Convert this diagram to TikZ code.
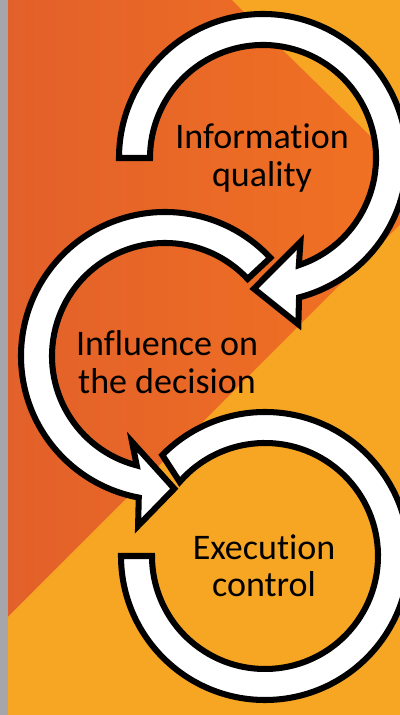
\documentclass[tikz,border=0pt]{standalone}
\usepackage{fontspec}
\setmainfont{Carlito}[Ligatures=NoCommon]
\usepackage{tikz}

\definecolor{leftorange}{RGB}{226,96,42}
\definecolor{midorange}{RGB}{241,114,34}
\definecolor{warmyellow}{RGB}{247,166,36}
\definecolor{stripgray}{RGB}{166,166,170}

\tikzset{
	ring/.style={draw=black, fill=white, line width=4.3pt},
	ringtext/.style={font=\fontsize{25.6}{26.6}\selectfont, align=center, inner sep=0pt}
}

\begin{document}
\begin{tikzpicture}[x=0.025cm, y=0.025cm]
		\useasboundingbox (0,0) rectangle (400,715);
		\clip (0,0) rectangle (400,715);
		% background
		\shade [left color=leftorange, right color=midorange] (0,0) rectangle (400,715);
		\fill [warmyellow] (232,715) -- (400,715) -- (400,550) -- cycle;
		\fill [warmyellow] (0,0) -- (400,0) -- (400,490) -- (0,90) -- cycle;
		\fill [stripgray] (0,0) rectangle (8,715);
		% top ring, arrow head at the bottom
		\coordinate (c1) at (263,557);
		\begin{scope}[shift={(c1)}]
			\draw [ring] (180:144) arc [start angle=180, end angle=-75.5, radius=144]
				-- (-78:170) -- (-94:131) -- (-66:92) -- (-71.5:113)
				arc [start angle=-71.5, end angle=180, radius=113] -- cycle;
		\end{scope}
		% middle ring
		\coordinate (c2) at (165,359);
		\begin{scope}[shift={(c2)}]
			\draw [ring] (43:144) arc [start angle=43, end angle=259.5, radius=144]
				-- (261:172) -- (274:133) -- (249:92) -- (255.5:113)
				arc [start angle=255.5, end angle=43, radius=113] -- cycle;
		\end{scope}
		% bottom ring, no head
		\coordinate (c3) at (265,159);
		\begin{scope}[shift={(c3)}]
			\draw [ring] (180:144) arc [start angle=180, end angle=495.5, radius=144]
				-- (499:113) arc [start angle=499, end angle=180, radius=113] -- cycle;
		\end{scope}
		\node [ringtext] (quality) at (262,557) {Information\\quality};
		\node [ringtext] (decision) at (167,353) {Influence on\\the decision};
		\node [ringtext] (control) at (264,149) {Execution\\control};
	\end{tikzpicture}
\end{document}
